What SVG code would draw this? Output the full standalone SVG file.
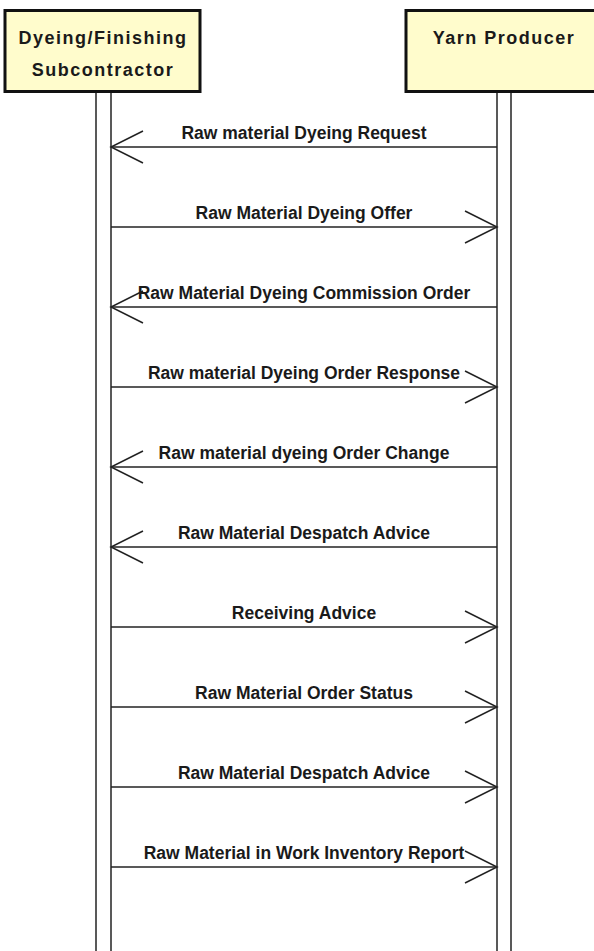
<svg xmlns="http://www.w3.org/2000/svg" width="594" height="951" viewBox="0 0 594 951">
<style>
.box{fill:#fffccc;stroke:#111;stroke-width:3}
.hd{font-family:"Liberation Sans",Arial,sans-serif;font-weight:bold;font-size:18px;letter-spacing:1.5px;fill:#1a1a1a;text-anchor:middle}
.life{stroke:#222;stroke-width:1.5;fill:none}
.msg{stroke:#222;stroke-width:1.5;fill:none}
.lbl{font-family:"Liberation Sans",Arial,sans-serif;font-weight:bold;font-size:17.5px;fill:#1a1a1a;text-anchor:middle}
</style>
<rect width="594" height="951" fill="#fff"/>
<g id="lifelines">
<line class="life" x1="96" y1="92" x2="96" y2="951"/>
<line class="life" x1="111" y1="92" x2="111" y2="951"/>
<line class="life" x1="497" y1="92" x2="497" y2="951"/>
<line class="life" x1="511" y1="92" x2="511" y2="951"/>
</g>
<g id="node-subcontractor">
<rect class="box" x="5" y="10.5" width="195" height="81"/>
<text class="hd" x="103" y="44">Dyeing/Finishing</text>
<text class="hd" x="103" y="76">Subcontractor</text>
</g>
<g id="node-yarn">
<rect class="box" x="406" y="10.5" width="196" height="81"/>
<text class="hd" x="504" y="44">Yarn Producer</text>
</g>
<g id="connectors">
<g id="m1"><line class="msg" x1="111" y1="147" x2="497" y2="147"/><polyline class="msg" points="143,131 111,147 143,163"/><text class="lbl" x="304" y="139">Raw material Dyeing Request</text></g>
<g id="m2"><line class="msg" x1="111" y1="227" x2="497" y2="227"/><polyline class="msg" points="465,211 497,227 465,243"/><text class="lbl" x="304" y="219">Raw Material Dyeing Offer</text></g>
<g id="m3"><line class="msg" x1="111" y1="307" x2="497" y2="307"/><polyline class="msg" points="143,291 111,307 143,323"/><text class="lbl" x="304" y="299">Raw Material Dyeing Commission Order</text></g>
<g id="m4"><line class="msg" x1="111" y1="387" x2="497" y2="387"/><polyline class="msg" points="465,371 497,387 465,403"/><text class="lbl" x="304" y="379">Raw material Dyeing Order Response</text></g>
<g id="m5"><line class="msg" x1="111" y1="467" x2="497" y2="467"/><polyline class="msg" points="143,451 111,467 143,483"/><text class="lbl" x="304" y="459">Raw material dyeing Order Change</text></g>
<g id="m6"><line class="msg" x1="111" y1="547" x2="497" y2="547"/><polyline class="msg" points="143,531 111,547 143,563"/><text class="lbl" x="304" y="539">Raw Material Despatch Advice</text></g>
<g id="m7"><line class="msg" x1="111" y1="627" x2="497" y2="627"/><polyline class="msg" points="465,611 497,627 465,643"/><text class="lbl" x="304" y="619">Receiving Advice</text></g>
<g id="m8"><line class="msg" x1="111" y1="707" x2="497" y2="707"/><polyline class="msg" points="465,691 497,707 465,723"/><text class="lbl" x="304" y="699">Raw Material Order Status</text></g>
<g id="m9"><line class="msg" x1="111" y1="787" x2="497" y2="787"/><polyline class="msg" points="465,771 497,787 465,803"/><text class="lbl" x="304" y="779">Raw Material Despatch Advice</text></g>
<g id="m10"><line class="msg" x1="111" y1="867" x2="497" y2="867"/><polyline class="msg" points="465,851 497,867 465,883"/><text class="lbl" x="304" y="859">Raw Material in Work Inventory Report</text></g>
</g>
</svg>
